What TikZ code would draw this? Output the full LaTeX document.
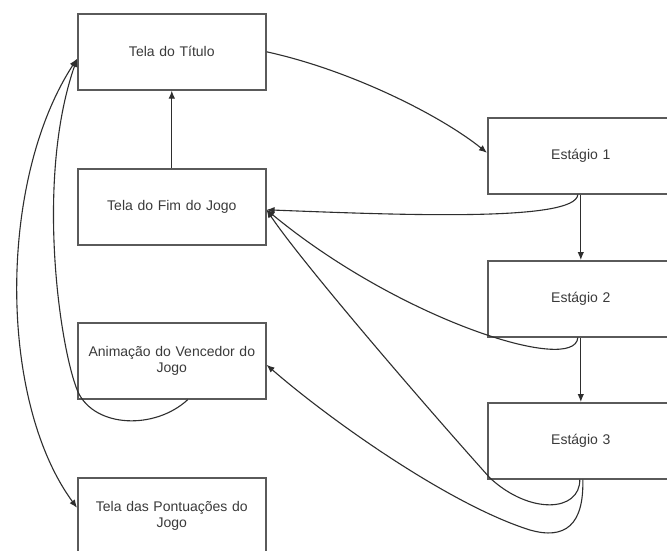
\documentclass[tikz,border=0pt]{standalone}
\usepackage{fontspec}
\setmainfont{Liberation Sans}
\usetikzlibrary{arrows.meta}
\definecolor{boxgray}{HTML}{5A5A5A}
\definecolor{linegray}{HTML}{2E2E2E}
\definecolor{textgray}{HTML}{3A3A3A}
\begin{document}
\begin{tikzpicture}[x=1pt,y=-1pt,
  screen/.style={draw=boxgray, line width=1.6pt, fill=white,
    minimum width=188pt, minimum height=76pt, inner sep=0pt,
    text width=180pt, align=center, anchor=north west,
    font=\fontsize{14}{15.5}\selectfont, text=textgray},
  link/.style={draw=linegray, line width=1.1pt,
    -{Latex[length=8pt,width=6.5pt]}},
  twoway/.style={link, {Latex[length=8pt,width=6.5pt]}-{Latex[length=8pt,width=6.5pt]}}
]
\useasboundingbox (0,0) rectangle (667,550);
\clip (0,0) rectangle (667,550);
\fill[white] (0,0) rectangle (667,550);

% screens of the game
\node[screen] (tit)  at (77,13)  {Tela do Título};
\node[screen] (fim)  at (77,168) {Tela do Fim do Jogo};
\node[screen] (anim) at (77,322) {Animação do Vencedor do\\Jogo};
\node[screen] (pont) at (77,477) {Tela das Pontuações do\\Jogo};
\node[screen, minimum width=186pt] (e1) at (487,117) {Estágio 1};
\node[screen, minimum width=186pt] (e2) at (487,260) {Estágio 2};
\node[screen, minimum width=186pt] (e3) at (487,402) {Estágio 3};

% straight transitions
\draw[link] (fim.north) -- (tit.south);
\draw[link] (e1.south) -- (e2.north);
\draw[link] (e2.south) -- (e3.north);

% title screen starts stage 1
\draw[link] (tit.east) .. controls (350,70) and (440,115) .. ([yshift=3pt]e1.west);

% every stage can end the game
\draw[link] ([xshift=-3pt]e1.south) .. controls (576,222) and (400,215) .. ([yshift=-3pt]fim.east);
\draw[link] ([xshift=-3pt]e2.south) .. controls (575,375) and (400,320) .. ([yshift=-3pt]fim.east);
\coordinate (u3) at (490,478);
\draw[link] ([xshift=-1pt]e3.south) .. controls (580,512) and (530,515) .. (u3)
  .. controls (420,400) and (300,260) .. ([yshift=-3pt]fim.east);

% last stage leads to the winner animation
\coordinate (u4) at (530,530);
\draw[link] ([xshift=2pt]e3.south) .. controls (584,525) and (565,540) .. (u4)
  .. controls (450,505) and (330,420) .. ([yshift=-4pt]anim.east);

% winner animation back to the title screen
\coordinate (u5) at (78,392);
\draw[link] ([xshift=16pt]anim.south) .. controls (155,430) and (95,428) .. (u5)
  .. controls (60,350) and (35,180) .. ([yshift=-7pt]tit.west);

% title screen and score screen
\draw[twoway] ([yshift=-7pt]tit.west) .. controls (-2,180) and (-2,400) .. ([yshift=8pt]pont.west);
\end{tikzpicture}
\end{document}
